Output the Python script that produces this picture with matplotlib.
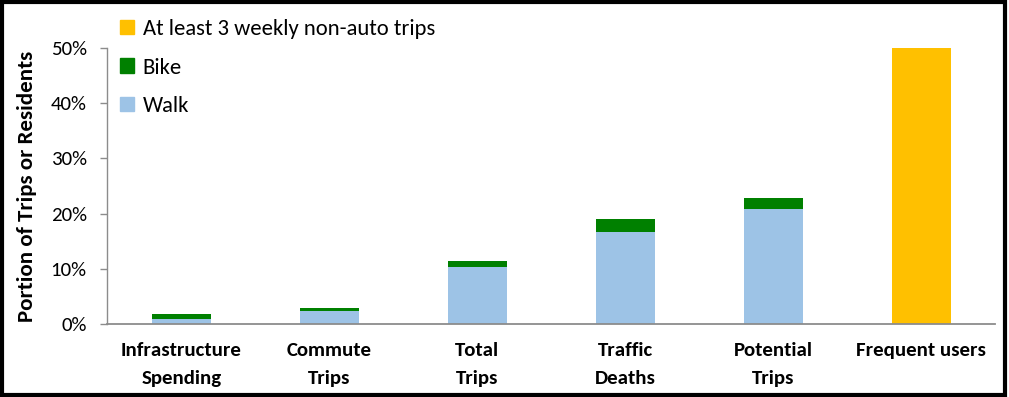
import matplotlib
matplotlib.use("Agg")
import matplotlib.pyplot as plt
from matplotlib.patches import Patch, Rectangle
from matplotlib.ticker import PercentFormatter

categories = ["Infrastructure\nSpending", "Commute\nTrips", "Total\nTrips",
              "Traffic\nDeaths", "Potential\nTrips", "Frequent users"]
walk = [0.9, 2.4, 10.4, 16.7, 20.8, 0]
bike = [0.9, 0.5, 1.0, 2.3, 2.0, 0]
frequent = [0, 0, 0, 0, 0, 50]
yticks = [0, 10, 20, 30, 40, 50]

plt.rcParams['font.family'] = ['Carlito', 'Lato', 'DejaVu Sans']

WALK_C = "#9DC3E6"
BIKE_C = "#008000"
FREQ_C = "#FFC000"
AX_C = "#8C8C8C"

fig = plt.figure(figsize=(10.09, 3.97), dpi=100)
ax = fig.add_axes([0.1065, 0.184, 0.88, 0.695])

x = list(range(len(categories)))
w = 0.4
ax.bar(x[:5], walk[:5], width=w, color=WALK_C, label="Walk")
ax.bar(x[:5], bike[:5], width=w, bottom=walk[:5], color=BIKE_C, label="Bike")
ax.bar(x[5:], frequent[5:], width=w, color=FREQ_C, label="At least 3 weekly non-auto trips")

ax.set_xlim(-0.5, 5.5)
ax.set_ylim(0, 50)
ax.set_yticks(yticks)
ax.yaxis.set_major_formatter(PercentFormatter(decimals=0))
ax.set_xticks(x)
ax.set_xticklabels(categories, fontsize=15, fontweight="bold", linespacing=1.75)
ax.tick_params(axis="x", length=0, pad=13)
ax.tick_params(axis="y", length=5, width=1, color=AX_C, labelsize=15, pad=10)

for s in ["top", "right"]:
    ax.spines[s].set_visible(False)
ax.spines["left"].set_color(AX_C)
ax.spines["bottom"].set_color(AX_C)
ax.spines["left"].set_linewidth(1)
ax.spines["bottom"].set_linewidth(1.3)

ax.set_ylabel("Portion of Trips or Residents", fontsize=16.5, fontweight="bold", labelpad=10)

handles = [Patch(color=FREQ_C), Patch(color=BIKE_C), Patch(color=WALK_C)]
labels = ["At least 3 weekly non-auto trips", "Bike", "Walk"]
fig.legend(handles, labels, loc="upper left", bbox_to_anchor=(0.110, 0.975),
           frameon=False, fontsize=16.3, handlelength=0.6, handleheight=0.6,
           handletextpad=0.4, labelspacing=0.82, borderaxespad=0)

fig.patches.append(Rectangle((0.0015, 0.004), 0.995, 0.992, transform=fig.transFigure,
                             fill=False, edgecolor="black", linewidth=3))

fig.savefig("out.png", dpi=100)
